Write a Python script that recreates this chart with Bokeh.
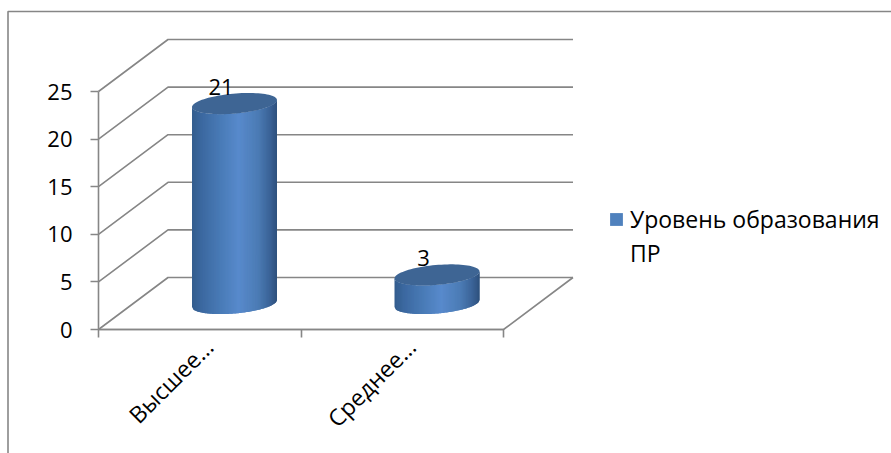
from bokeh.plotting import figure
from bokeh.embed import file_html
from bokeh.resources import INLINE
from bokeh.models import LinearAxis, FixedTicker, Legend, LegendItem, BoxAnnotation, ColumnDataSource
from bokeh.core.properties import value
import math

categories = ["Высшее…", "Среднее…"]
series_name = ["Уровень образования", "ПР"]
values = [21, 3]
y_ticks = [0, 5, 10, 15, 20, 25]

W, H = 891, 453
X0_PX, Y0_PX = 98.0, 329.0
PX_X, PX_Y = 202.5, 9.52
DEPTH_X = 69.5 / PX_X
DEPTH_Y = 52.0 / PX_Y
GREY = "#868686"
FONT = "Open Sans"
FS = "22px"
nan = float("nan")

p = figure(width=W, height=H, output_backend="svg", toolbar_location=None,
           x_range=(-X0_PX / PX_X, (W - X0_PX) / PX_X),
           y_range=(-(H - Y0_PX) / PX_Y, Y0_PX / PX_Y),
           x_axis_type=None, y_axis_type=None,
           min_border=0, outline_line_color=None)
p.grid.visible = False
p.background_fill_color = "#ffffff"

# chart area border
p.add_layout(BoxAnnotation(left=7.5, right=W + 10, top=H - 11, bottom=-10,
                           left_units="screen", right_units="screen",
                           top_units="screen", bottom_units="screen",
                           fill_alpha=0, line_color=GREY, line_alpha=1, line_width=1.6, level="underlay"))

# walls: gridlines on back wall + side wall, floor
n_cat = len(categories)
xs, ys = [], []
for t in y_ticks:
    xs.append([0, DEPTH_X, n_cat + DEPTH_X])
    ys.append([t, t + DEPTH_Y, t + DEPTH_Y])
xs.append([0, n_cat, n_cat + DEPTH_X])
ys.append([0, 0, DEPTH_Y])
p.multi_line(xs, ys, line_color=GREY, line_width=1.6)

# axes
ya = LinearAxis(ticker=FixedTicker(ticks=y_ticks), fixed_location=0, bounds=(0, 25),
                axis_line_color=GREY, axis_line_width=1.6,
                major_tick_line_color=GREY, major_tick_line_width=1.6,
                major_tick_out=8, major_tick_in=0, minor_tick_out=0, minor_tick_in=0,
                major_label_standoff=18, major_label_text_font=FONT,
                major_label_text_font_size=FS, major_label_text_color="#000000")
p.add_layout(ya, "left")

LABEL_SHIFT = 0.045
label_pos = [i + 0.5 + LABEL_SHIFT for i in range(n_cat)]
xa = LinearAxis(ticker=FixedTicker(ticks=label_pos, minor_ticks=list(range(n_cat + 1))),
                fixed_location=0, bounds=(0, n_cat),
                major_label_overrides={k: v for k, v in zip(label_pos, categories)},
                major_label_orientation=math.pi / 4,
                axis_line_color=GREY, axis_line_width=1.6,
                major_tick_line_color=None, major_tick_out=0, major_tick_in=0,
                minor_tick_line_color=GREY, minor_tick_line_width=1.6,
                minor_tick_out=8, minor_tick_in=0,
                major_label_standoff=5, major_label_text_font=FONT,
                major_label_text_font_size="23px", major_label_text_color="#000000")
p.add_layout(xa, "below")

# cylinders
R = 42.5 / PX_X
B = 10.0 / PX_Y
S = 3.5 / PX_Y
STOPS = [(0.0, (0x33, 0x5D, 0x8E)), (0.12, (0x3C, 0x69, 0xA1)), (0.35, (0x4A, 0x7C, 0xB8)),
         (0.55, (0x58, 0x8A, 0xCC)), (0.78, (0x4B, 0x7B, 0xB4)), (0.92, (0x3A, 0x62, 0x96)),
         (1.0, (0x2E, 0x50, 0x7C))]

def shade(t):
    for (a, ca), (b, cb) in zip(STOPS, STOPS[1:]):
        if t <= b:
            f = (t - a) / (b - a)
            return "#%02x%02x%02x" % tuple(round(x + (y - x) * f) for x, y in zip(ca, cb))
    return "#2e507c"

def low(u, base):
    return base + S * u - B * math.sqrt(max(0, 1 - u * u))

N = 70
for i, v in enumerate(values):
    cx = i + 0.5 + DEPTH_X / 2
    y0 = DEPTH_Y / 2
    y1 = v + DEPTH_Y / 2
    sx, sy, colors = [], [], []
    for k in range(N):
        u0 = -1 + 2 * k / N
        u1 = min(1, -1 + 2 * (k + 2) / N)
        um = (u0 + u1) / 2
        sx.append([cx + R * u0, cx + R * um, cx + R * u1, cx + R * u1, cx + R * um, cx + R * u0])
        sy.append([low(u0, y0), low(um, y0), low(u1, y0), low(u1, y1), low(um, y1), low(u0, y1)])
        colors.append(shade((k + 0.5) / N))
    p.patches(sx, sy, fill_color=colors, line_color=None)
    tx = [cx + R * math.cos(2 * math.pi * k / 90) for k in range(90)]
    ty = [y1 + S * math.cos(2 * math.pi * k / 90) + B * math.sin(2 * math.pi * k / 90) for k in range(90)]
    p.patch(tx, ty, fill_color="#3e6594", line_color=None)

# data labels
lab = ColumnDataSource(dict(
    x=[i + 0.5 + DEPTH_X / 2 - 13.5 / PX_X for i in range(n_cat)],
    y=[v + DEPTH_Y / 2 + 16.5 / PX_Y for v in values],
    t=[str(v) for v in values]))
p.text("x", "y", text="t", source=lab, text_align="center", text_baseline="middle",
       text_font=value(FONT), text_font_size=FS, text_color="#000000")

# legend
r1 = p.quad(left=[nan], right=[nan], top=[nan], bottom=[nan], fill_color="#4f81bd", line_color=None)
r2 = p.quad(left=[nan], right=[nan], top=[nan], bottom=[nan], fill_alpha=0, line_alpha=0)
leg = Legend(items=[LegendItem(label=series_name[0], renderers=[r1]),
                    LegendItem(label=series_name[1], renderers=[r2])],
             location=(608, 453 - 269), orientation="vertical",
             glyph_width=16, glyph_height=16, label_standoff=6, label_height=24,
             spacing=2, padding=0, margin=0, border_line_color=None,
             background_fill_alpha=0, label_text_font=FONT, label_text_font_size="23px",
             label_text_color="#000000")
p.add_layout(leg, "center")

open("out.html", "w").write(file_html(p, INLINE))
